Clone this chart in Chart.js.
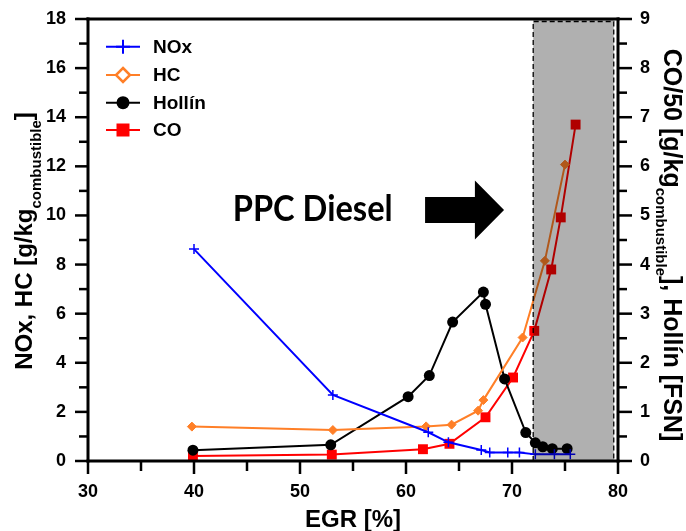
<!DOCTYPE html>
<html>
<head>
<meta charset="utf-8">
<script src="https://cdn.jsdelivr.net/npm/chart.js@4.4.0/dist/chart.umd.min.js"></script>
<style>
  html, body { margin: 0; padding: 0; background: #fff; }
</style>
</head>
<body>
<canvas id="grafico" width="686" height="531"></canvas>
<script>
// datos (EGR en %, eje izq. NOx/HC, eje der. CO/50 y Hollin)
const egrNOx = [40.0, 53.1, 62.1, 64.0, 67.1, 67.9, 69.6, 70.7, 72.2, 74.0, 75.5];
const valNOx = [8.63, 2.69, 1.17, 0.76, 0.45, 0.35, 0.35, 0.35, 0.27, 0.27, 0.27];

const egrHC = [39.8, 53.1, 61.9, 64.3, 66.8, 67.3, 71.0, 73.1, 75.0];
const valHC = [1.40, 1.26, 1.41, 1.48, 2.05, 2.48, 5.03, 8.15, 12.07];

const egrHollin = [39.9, 52.9, 60.2, 62.2, 64.4, 67.3, 67.5, 69.3, 71.3, 72.2, 72.9, 73.8, 75.2];
const valHollin = [0.22, 0.33, 1.31, 1.74, 2.83, 3.44, 3.19, 1.67, 0.58, 0.37, 0.29, 0.25, 0.25];

const egrCO = [39.9, 53.0, 61.6, 64.1, 67.5, 70.1, 72.1, 73.7, 74.6, 76.0];
const valCO = [0.10, 0.13, 0.24, 0.35, 0.89, 1.70, 2.65, 3.90, 4.96, 6.85];

const ticksX = [30, 35, 40, 45, 50, 55, 60, 65, 70, 75, 80];
const ticksY = [0, 1, 2, 3, 4, 5, 6, 7, 8, 9, 10, 11, 12, 13, 14, 15, 16, 17, 18];
const ticksY2 = [0, 0.5, 1, 1.5, 2, 2.5, 3, 3.5, 4, 4.5, 5, 5.5, 6, 6.5, 7, 7.5, 8, 8.5, 9];

const zonaPPC = [72.0, 79.6];          // zona sombreada (EGR %)
const textoPPC = { texto: 'PPC Diesel', egr: 51.2, y: 10.32 };
const flecha = { desde: 61.8, cabeza: 66.5, hasta: 69.25, y: 10.22 };

const fuente = "'Liberation Sans', Arial, sans-serif";

function pares(xs, ys) {
  return xs.map((x, i) => ({ x: x, y: ys[i] }));
}

// marcador simple para la leyenda
function marcador(ctx, estilo, cx, cy, r, relleno, borde, grosor) {
  ctx.save();
  ctx.fillStyle = relleno;
  ctx.strokeStyle = borde;
  ctx.lineWidth = grosor;
  ctx.beginPath();
  if (estilo === 'cross') {
    ctx.moveTo(cx - r, cy); ctx.lineTo(cx + r, cy);
    ctx.moveTo(cx, cy - r); ctx.lineTo(cx, cy + r);
    ctx.stroke();
  } else if (estilo === 'rectRot') {
    ctx.moveTo(cx, cy - r); ctx.lineTo(cx + r, cy); ctx.lineTo(cx, cy + r); ctx.lineTo(cx - r, cy);
    ctx.closePath(); ctx.fill(); ctx.stroke();
  } else if (estilo === 'rect') {
    ctx.rect(cx - r, cy - r, 2 * r, 2 * r);
    ctx.fill();
  } else {
    ctx.arc(cx, cy, r, 0, Math.PI * 2);
    ctx.fill();
  }
  ctx.restore();
}

// titulo con subindice, rotado
function tituloEje(ctx, partes, x, y, angulo) {
  ctx.save();
  ctx.translate(x, y);
  ctx.rotate(angulo);
  ctx.fillStyle = '#000';
  ctx.textBaseline = 'alphabetic';
  ctx.textAlign = 'left';
  let total = 0;
  partes.forEach(p => {
    ctx.font = 'bold ' + p.size + 'px ' + fuente;
    p.w = ctx.measureText(p.t).width;
    total += p.w;
  });
  let px = -total / 2;
  partes.forEach(p => {
    ctx.font = 'bold ' + p.size + 'px ' + fuente;
    ctx.fillText(p.t, px, p.dy);
    px += p.w;
  });
  ctx.restore();
}

// marcas de los ejes (mayores mas largas)
function marcas(chart) {
  const ctx = chart.ctx, a = chart.chartArea;
  const x = chart.scales.x, y = chart.scales.y, y2 = chart.scales.y2;
  ctx.save();
  ctx.fillStyle = '#000';
  ticksX.forEach(v => {
    const px = x.getPixelForValue(v);
    const l = v % 10 === 0 ? 13 : 10;
    ctx.fillRect(px - 1.25, a.bottom, 2.5, l);
  });
  ticksY.forEach(v => {
    const py = y.getPixelForValue(v);
    const l = v % 2 === 0 ? 13 : 9;
    ctx.fillRect(a.left - l, py - 1.25, l, 2.5);
  });
  ticksY2.forEach(v => {
    const py = y2.getPixelForValue(v);
    const l = v % 1 === 0 ? 14 : 9;
    ctx.fillRect(a.right, py - 1.25, l, 2.5);
  });
  ctx.restore();
}

const decoracion = {
  id: 'decoracion',
  afterDatasetsDraw(chart) {
    const ctx = chart.ctx, a = chart.chartArea, x = chart.scales.x;
    const x1 = x.getPixelForValue(zonaPPC[0]);
    const x2 = x.getPixelForValue(zonaPPC[1]);
    ctx.save();
    ctx.fillStyle = 'rgba(0,0,0,0.31)';
    ctx.fillRect(x1, a.top, x2 - x1, a.bottom - a.top);
    ctx.setLineDash([5, 3]);
    ctx.strokeStyle = '#000';
    ctx.lineWidth = 1.3;
    ctx.beginPath();
    ctx.moveTo(x1, a.bottom); ctx.lineTo(x1, a.top + 2.5);
    ctx.lineTo(x2, a.top + 2.5); ctx.lineTo(x2, a.bottom);
    ctx.stroke();
    ctx.restore();
  },
  afterDraw(chart) {
    const ctx = chart.ctx, a = chart.chartArea;
    const x = chart.scales.x, y = chart.scales.y;
    ctx.save();
    ctx.fillStyle = '#000';

    // marco (rellenos)
    ctx.fillRect(a.left - 1.5, a.top - 1.5, a.right - a.left + 3, 3);
    ctx.fillRect(a.left - 1.5, a.bottom - 1.5, a.right - a.left + 3, 3);
    ctx.fillRect(a.left - 1.5, a.top - 1.5, 3, a.bottom - a.top + 3);
    ctx.fillRect(a.right - 1.5, a.top - 1.5, 3, a.bottom - a.top + 3);

    // titulos
    ctx.font = 'bold 24px ' + fuente;
    ctx.textAlign = 'center';
    ctx.textBaseline = 'alphabetic';
    ctx.fillText('EGR [%]', (a.left + a.right) / 2, 527);

    tituloEje(ctx, [
      { t: 'NOx, HC [g/kg', size: 24, dy: 0 },
      { t: 'combustible', size: 15, dy: 9 },
      { t: ']', size: 24, dy: 0 }
    ], 32, (a.top + a.bottom) / 2 + 1, -Math.PI / 2);

    tituloEje(ctx, [
      { t: 'CO/50 [g/kg', size: 25, dy: 0 },
      { t: 'combustible', size: 15, dy: 8 },
      { t: '], Hollín [FSN]', size: 25, dy: 0 }
    ], 664, (a.top + a.bottom) / 2 + 5, Math.PI / 2);

    // leyenda
    const filas = [46.7, 75, 102.7, 130];
    chart.data.datasets.forEach((ds, i) => {
      const ly = filas[i];
      ctx.strokeStyle = ds.borderColor;
      ctx.lineWidth = 2;
      ctx.beginPath(); ctx.moveTo(106, ly); ctx.lineTo(140, ly); ctx.stroke();
      if (ds.pointStyle === 'cross') marcador(ctx, 'cross', 123, ly, 7, ds.borderColor, ds.borderColor, 2);
      else if (ds.pointStyle === 'rectRot') marcador(ctx, 'rectRot', 123, ly, 7, '#fff', ds.borderColor, 2.5);
      else if (ds.pointStyle === 'rect') marcador(ctx, 'rect', 123, ly, 6.5, ds.backgroundColor, ds.borderColor, 0);
      else marcador(ctx, 'circle', 123, ly, 6.5, ds.backgroundColor, ds.borderColor, 0);
      ctx.fillStyle = '#000';
      ctx.font = 'bold 19px ' + fuente;
      ctx.textAlign = 'left';
      ctx.textBaseline = 'middle';
      ctx.fillText(ds.label, 153, ly + 1);
    });

    // texto y flecha
    ctx.font = 'bold 37px Lato, ' + fuente;
    const w = ctx.measureText(textoPPC.texto).width;
    const tx = x.getPixelForValue(textoPPC.egr), ty = y.getPixelForValue(textoPPC.y);
    ctx.save();
    ctx.translate(tx, ty + 13.3);
    ctx.scale(160 / w, 1);
    ctx.textAlign = 'center';
    ctx.textBaseline = 'alphabetic';
    ctx.fillStyle = '#000';
    ctx.fillText(textoPPC.texto, 0, 0);
    ctx.restore();

    const fx0 = x.getPixelForValue(flecha.desde), fx1 = x.getPixelForValue(flecha.cabeza);
    const fx2 = x.getPixelForValue(flecha.hasta), fy = y.getPixelForValue(flecha.y);
    ctx.fillStyle = '#000';
    ctx.beginPath();
    ctx.moveTo(fx0, fy - 13); ctx.lineTo(fx1, fy - 13); ctx.lineTo(fx1, fy - 29.5);
    ctx.lineTo(fx2, fy); ctx.lineTo(fx1, fy + 29.5); ctx.lineTo(fx1, fy + 13);
    ctx.lineTo(fx0, fy + 13);
    ctx.closePath();
    ctx.fill();
    ctx.restore();

    marcas(chart);
  }
};

// la separacion de las etiquetas se hace con tickLength (marcas transparentes)
// para que ticks.padding no empuje el area del grafico hacia abajo
const rejilla = largo => ({ display: true, drawOnChartArea: false, drawTicks: true,
                            tickLength: largo, tickColor: 'rgba(0,0,0,0)', color: 'rgba(0,0,0,0)' });
const letraEje = { family: fuente, weight: 'bold', size: 18 };

new Chart(document.getElementById('grafico'), {
  type: 'scatter',
  data: {
    datasets: [
      { label: 'NOx', data: pares(egrNOx, valNOx), yAxisID: 'y', showLine: true,
        borderColor: '#0000ff', backgroundColor: '#0000ff', borderWidth: 2,
        pointStyle: 'cross', pointRadius: 5, pointBorderWidth: 1.5 },
      { label: 'HC', data: pares(egrHC, valHC), yAxisID: 'y', showLine: true,
        borderColor: '#ff7f27', backgroundColor: '#ff7f27', borderWidth: 2,
        pointStyle: 'rectRot', pointRadius: 4.5, pointBorderWidth: 1 },
      { label: 'Hollín', data: pares(egrHollin, valHollin), yAxisID: 'y2', showLine: true,
        borderColor: '#000000', backgroundColor: '#000000', borderWidth: 2,
        pointStyle: 'circle', pointRadius: 5.5, pointBorderWidth: 0 },
      { label: 'CO', data: pares(egrCO, valCO), yAxisID: 'y2', showLine: true,
        borderColor: '#ff0000', backgroundColor: '#ff0000', borderWidth: 2,
        pointStyle: 'rect', pointRadius: 7, pointBorderWidth: 0 }
    ]
  },
  options: {
    responsive: false,
    animation: false,
    layout: { padding: { top: 19 } },
    elements: { line: { tension: 0 } },
    plugins: { legend: { display: false }, tooltip: { enabled: false } },
    scales: {
      x: {
        type: 'linear', min: 30, max: 80,
        afterFit: s => { s.height = 70; },
        grid: rejilla(20),
        border: { display: false },
        ticks: { stepSize: 5, padding: 0, color: '#000', maxRotation: 0, font: letraEje,
                 callback: v => v % 10 === 0 ? v : '' }
      },
      y: {
        position: 'left', min: 0, max: 18,
        afterFit: s => { s.width = 88; },
        grid: rejilla(22),
        border: { display: false },
        ticks: { stepSize: 1, padding: 0, color: '#000', font: letraEje,
                 callback: v => v % 2 === 0 ? v : '' }
      },
      y2: {
        position: 'right', min: 0, max: 9,
        afterFit: s => { s.width = 68; },
        grid: rejilla(22),
        border: { display: false },
        ticks: { stepSize: 0.5, padding: 0, color: '#000', font: letraEje,
                 callback: v => v % 1 === 0 ? v : '' }
      }
    }
  },
  plugins: [decoracion]
});
</script>
</body>
</html>
